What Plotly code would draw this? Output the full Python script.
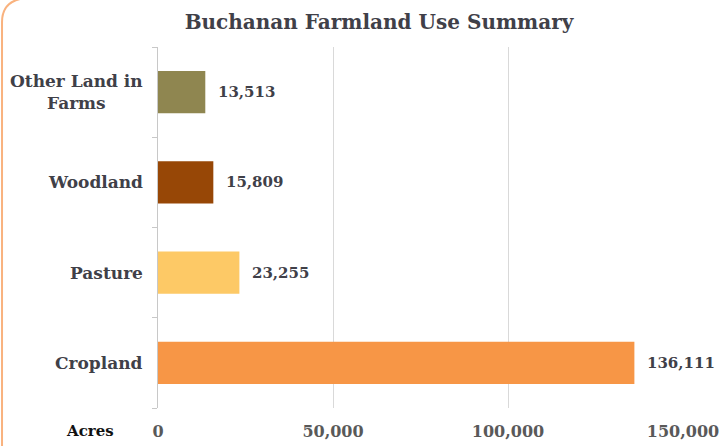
import plotly.graph_objects as go

categories = ["Cropland", "Pasture", "Woodland", "Other Land in<br>Farms"]
acres = [136111, 23255, 15809, 13513]
bar_colors = ["#f79646", "#fdc966", "#974706", "#8f8650"]
x_ticks = [0, 50000, 100000, 150000]
x_tick_labels = ["0", "50,000", "100,000", "150,000"]

FONT = "DejaVu Serif"
TXT = "#404048"

fig = go.Figure()
fig.add_trace(go.Bar(
    y=categories, x=acres, orientation="h",
    marker=dict(color=bar_colors, line=dict(width=0)),
    width=0.47, hoverinfo="skip",
))

for c, v in zip(categories, acres):
    fig.add_annotation(x=v, y=c, xref="x", yref="y", text=f"<b>{v:,}</b>",
                       showarrow=False, xanchor="left", xshift=11,
                       font=dict(family=FONT, size=15, color=TXT))
    fig.add_annotation(x=0, y=c, xref="paper", yref="y", text=f"<b>{c}</b>",
                       showarrow=False, xanchor="right", xshift=-13, align="center",
                       font=dict(family=FONT, size=17, color=TXT))

fig.add_annotation(x=-0.13, y=-0.063, xref="paper", yref="paper", text="<b>Acres</b>",
                   showarrow=False, xanchor="center", yanchor="middle",
                   font=dict(family=FONT, size=15, color="#111111"))

fig.add_shape(type="path", xref="paper", yref="paper",
              path="M -0.2971,-0.12 L -0.2971,1.069 Q -0.2971,1.127 -0.255,1.135",
              line=dict(color="#f9b27e", width=2))

fig.update_layout(
    width=722, height=446,
    margin=dict(l=158, r=39, t=47, b=38, autoexpand=False),
    paper_bgcolor="white", plot_bgcolor="white",
    showlegend=False,
    title=dict(text="<b>Buchanan Farmland Use Summary</b>", x=379 / 722, xref="container",
               xanchor="center", y=1 - 22 / 446, yref="container", yanchor="middle",
               font=dict(family=FONT, size=20, color=TXT)),
    xaxis=dict(range=[0, 150000], tickvals=x_ticks, ticktext=[f"<b>{t}</b>" for t in x_tick_labels],
               showgrid=True, gridcolor="#d9d9d9", gridwidth=1, zeroline=False,
               showline=False, ticks="", ticklabelstandoff=12, automargin=False,
               tickfont=dict(family=FONT, size=16, color="#595959")),
    yaxis=dict(showline=True, linecolor="#c8c8c8", linewidth=1, showgrid=False,
               ticks="outside", tickson="boundaries", ticklen=5, tickcolor="#c8c8c8",
               showticklabels=False, automargin=False),
)

fig.write_html("out.html", config={"displayModeBar": False},
               post_script="document.body.style.margin='0';")
